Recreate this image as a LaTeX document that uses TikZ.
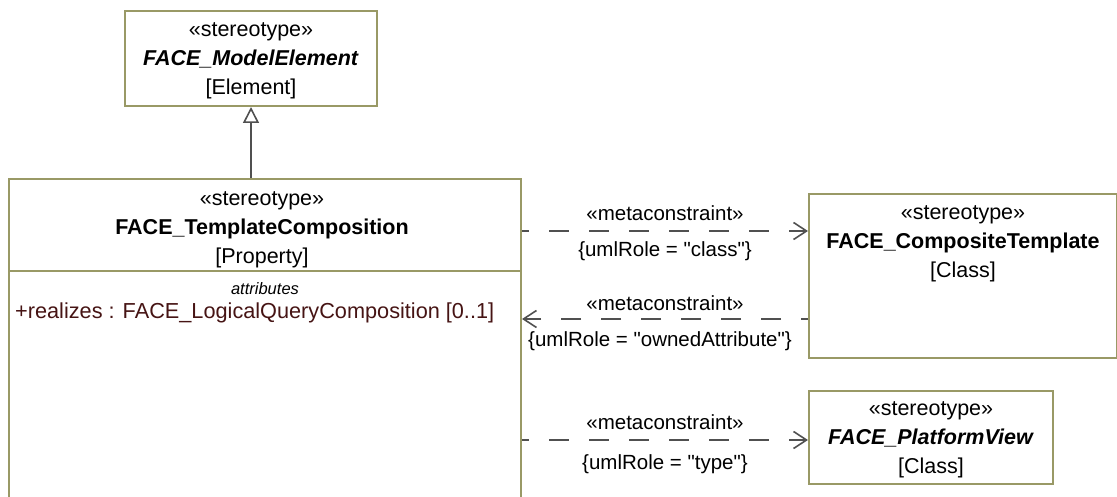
\documentclass[tikz,border=0pt]{standalone}
\usepackage{fontspec}
\setmainfont{Liberation Sans}[Ligatures=TeXOff]
\usetikzlibrary{arrows.meta, calc, positioning}
\definecolor{clsline}{RGB}{153, 153, 102}
\definecolor{linkcol}{RGB}{80, 80, 80}
\definecolor{attrcol}{RGB}{70, 20, 20}
\tikzset{
  cls/.style       = {draw=clsline, line width=2pt, fill=white, inner sep=0pt,
                      anchor=north west},
  clstext/.style   = {align=center, inner sep=0pt, anchor=north,
                      font=\fontsize{21.5}{29}\selectfont},
  comptitle/.style = {inner sep=0pt, anchor=north,
                      font=\fontsize{16.5}{19}\selectfont\itshape},
  attr/.style      = {inner sep=0pt, anchor=west, text=attrcol,
                      font=\fontsize{21.7}{25}\selectfont},
  lbl/.style       = {inner sep=0pt, font=\fontsize{20.5}{24}\selectfont},
  generalize/.style = {-{Triangle[open, length=16pt, width=16pt]},
                       draw=linkcol, line width=1.6pt},
  % metaconstraints: dashed dependency with an open barb
  metalink/.style  = {-{Straight Barb[length=13pt, width=17pt]}, draw=linkcol,
                      line width=1.6pt, dash pattern=on 20pt off 20pt,
                      dash phase=13pt},
}

\begin{document}
\begin{tikzpicture}[x=1pt, y=-1pt]
  \useasboundingbox (0,0) rectangle (1117,497);

  %% ---------------- the classes ----------------
  \node[cls, minimum width=252pt, minimum height=95pt]  (melem) at (124,10)  {};
  \node[cls, minimum width=512pt, minimum height=330pt] (tcomp) at (8,178)   {};
  \node[cls, minimum width=308pt, minimum height=164pt] (ctmpl) at (808,193) {};
  \node[cls, minimum width=244pt, minimum height=93pt]  (pview) at (808,390) {};

  \node[clstext] (melemtxt) at ($(melem.north)+(0,12)$)
       {«stereotype»\\\textbf{\textit{FACE\_ModelElement}}\\{[Element]}};
  \node[clstext] (tcomptxt) at ($(tcomp.north)+(-3,13)$)
       {«stereotype»\\\textbf{FACE\_TemplateComposition}\\{[Property]}};
  \node[clstext] (ctmpltxt) at ($(ctmpl.north)+(0,12)$)
       {«stereotype»\\\textbf{FACE\_CompositeTemplate}\\{[Class]}};
  \node[clstext] (pviewtxt) at ($(pview.north)+(0,11)$)
       {«stereotype»\\\textbf{\textit{FACE\_PlatformView}}\\{[Class]}};

  %% attribute compartment
  \draw[draw=clsline, line width=2pt]
       ($(tcomp.north west)+(0,93)$) coordinate (sepL) --
       ($(tcomp.north east)+(0,93)$) coordinate (sepR);
  \node[comptitle] (attrtitle) at ($(sepL)!0.5!(sepR)+(0,11)$) {attributes};
  \node[attr] (realizes) at ($(sepL)+(7,42)$)
       {+realizes : FACE\_LogicalQueryComposition [0..1]};

  %% ---------------- the links ----------------
  \draw[generalize] (melem.south |- tcomp.north) -- (melem.south);

  \coordinate (a1) at ($(ctmpl.north west)+(0,38)$);
  \coordinate (a2) at ($(ctmpl.north west)+(0,126)$);
  \coordinate (a3) at ($(pview.north west)+(0,50)$);

  \draw[metalink] (tcomp.east |- a1) -- (a1)
       node[lbl, midway, yshift=18pt]  (mc1)   {«metaconstraint»}
       node[lbl, midway, yshift=-20pt] (role1) {\{umlRole = "class"\}};
  \draw[metalink] (a2) -- (tcomp.east |- a2)
       node[lbl, midway, yshift=16pt]  (mc2)   {«metaconstraint»}
       node[lbl, midway, xshift=-5pt, yshift=-22pt] (role2)
            {\{umlRole = "ownedAttribute"\}};
  \draw[metalink] (tcomp.east |- a3) -- (a3)
       node[lbl, midway, yshift=18pt]  (mc3)   {«metaconstraint»}
       node[lbl, midway, yshift=-24pt] (role3) {\{umlRole = "type"\}};

\end{tikzpicture}
\end{document}
